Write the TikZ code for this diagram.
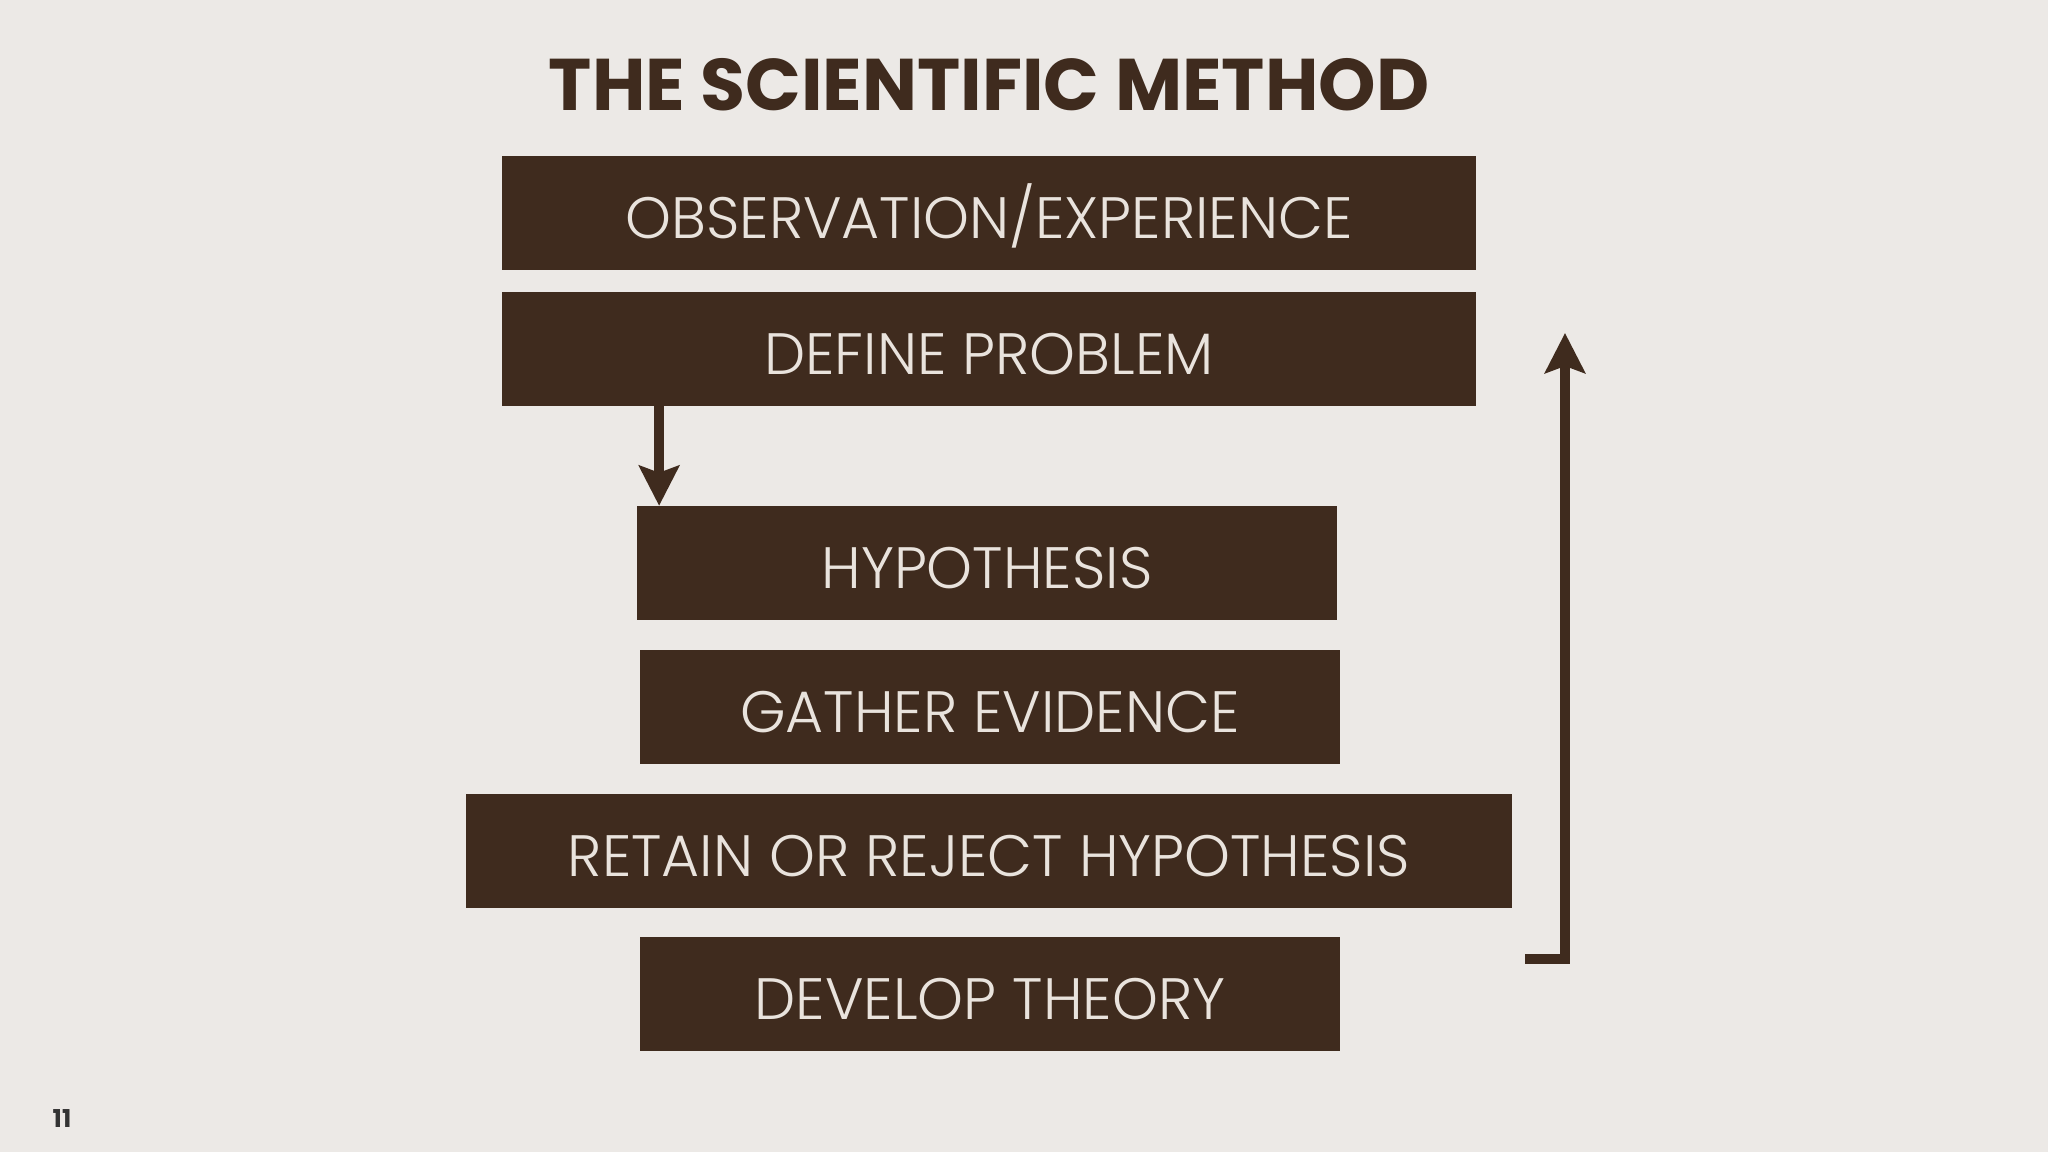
\documentclass[tikz,border=0pt]{standalone}
\usepackage{fontspec}
\usetikzlibrary{arrows.meta}
\newfontfamily\titlefont{Poppins}
\newfontfamily\boxfont{Poppins Light}
\definecolor{bgc}{HTML}{ECE9E6}
\definecolor{brn}{HTML}{3F2B1E}
\definecolor{lite}{HTML}{E9E3DD}
\begin{document}
\begin{tikzpicture}[x=0.01cm,y=-0.01cm,stepbox/.style={rectangle, fill=brn, inner sep=0pt, minimum height=1.13cm, text height=14.4pt, text depth=0pt, text=lite, font=\boxfont\fontsize{16.6}{20}\selectfont},arr/.style={draw=brn, line width=0.1cm, -{Stealth[width=0.4cm,length=0.4cm,inset=0.07cm]}}]
  \fill[bgc] (0,0) rectangle (2048,1152);
  \useasboundingbox (0,0) rectangle (2048,1152);

  \node[text=brn, font=\titlefont\bfseries\fontsize{20.8}{24}\selectfont] (t) at (989,85) {THE SCIENTIFIC METHOD};

  \node[stepbox, minimum width=9.73cm] (obs) at (989,213) {OBSERVATION/EXPERIENCE};
  \node[stepbox, minimum width=9.73cm] (def) at (989,349) {DEFINE PROBLEM};
  \node[stepbox, minimum width=7cm] (hyp) at (987,563) {HYPOTHESIS};
  \node[stepbox, minimum width=7cm] (gat) at (990,707) {GATHER EVIDENCE};
  \node[stepbox, minimum width=10.46cm] (ret) at (989,851) {RETAIN OR REJECT HYPOTHESIS};
  \node[stepbox, minimum width=7cm] (dev) at (990,994) {DEVELOP THEORY};

  \node[text=black!80, font=\titlefont\bfseries\fontsize{7}{8}\selectfont] (pg) at (62,1119) {11};

  \coordinate (a1) at ([xshift=0.23cm]hyp.north west);
  \coordinate (u0) at (1525,959);
  \coordinate (u1) at (1565,333);

    \draw[arr] (def.south -| a1) -- (a1);
    \draw[arr] (u0) -| (u1);

\end{tikzpicture}
\end{document}
